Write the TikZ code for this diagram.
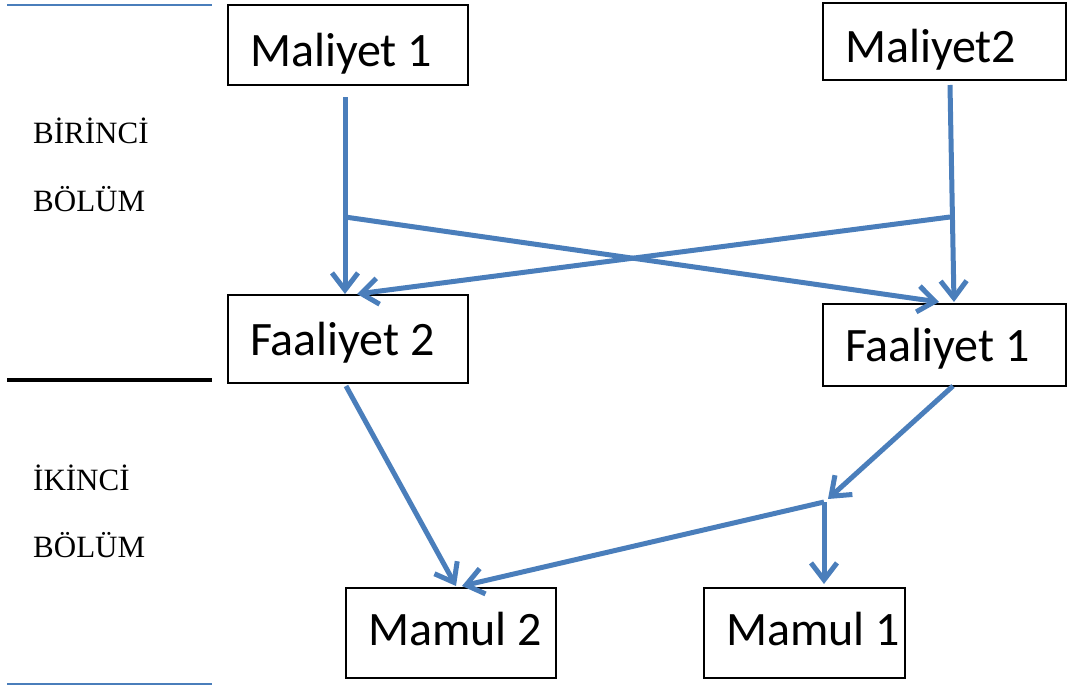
\documentclass[tikz,border=0pt]{standalone}
\usepackage{fontspec}
\setmainfont{Carlito}
\newfontfamily\serifface{Liberation Serif}
\usetikzlibrary{arrows.meta}
\definecolor{linkblue}{HTML}{4A7EBB}
\newcommand{\bxt}[3][0pt]{\raisebox{#1}{\makebox[#2][l]{#3}}}
\tikzset{
  box/.style={draw=black, line width=1.8pt, inner xsep=22pt, inner ysep=0pt, text height=34pt, text depth=0pt, font=\fontsize{48}{50}\selectfont, anchor=center},
  link/.style={draw=linkblue, line width=5pt, -{Straight Barb[length=17pt,width=26pt,line width=5pt]}},
  part/.style={font=\serifface\fontsize{31}{33}\selectfont, anchor=base west, inner sep=0pt},
  rule/.style={line width=2.8pt, draw=linkblue}
}
\begin{document}
\begin{tikzpicture}[x=1pt,y=-1pt]
\useasboundingbox (0,0) rectangle (1072,686);
% boxes
\node[box, minimum width=240pt, minimum height=80pt] (mal1) at (348,45) {\bxt[-4pt]{196pt}{Maliyet 1}};
\node[box, minimum width=243pt, minimum height=77pt] (mal2) at (944.5,41.5) {\bxt[-3.5pt]{199pt}{Maliyet2}};
\node[box, minimum width=240pt, minimum height=88pt] (fa2) at (348,339) {\bxt[1pt]{196pt}{Faaliyet 2}};
\node[box, minimum width=243pt, minimum height=82pt] (fa1) at (944.5,345) {\bxt[1pt]{199pt}{Faaliyet 1}};
\node[box, minimum width=210pt, minimum height=90pt] (mam2) at (451,633) {\bxt[5pt]{166pt}{Mamul 2}};
\node[box, minimum width=201pt, minimum height=90pt] (mam1) at (804.5,633) {\bxt[5pt]{157pt}{Mamul 1}};
% side labels
\node[part] (b1) at (33,143) {BİRİNCİ};
\node[part] (b2) at (33,211) {BÖLÜM};
\node[part] (i1) at (33,490) {İKİNCİ};
\node[part] (i2) at (33,557) {BÖLÜM};
% rules
\coordinate (t1) at (7,5); \coordinate (t2) at (212,5);
\coordinate (m1) at (7,380); \coordinate (m2) at (212,380);
\coordinate (u1) at (7,684); \coordinate (u2) at (212,684);
\draw[rule] (t1) -- (t2);
\draw[line width=3.5pt, black] (m1) -- (m2);
\draw[rule] (u1) -- (u2);
% connector points
\coordinate (s1) at (345,97);
\coordinate (j1) at (345,217);
\coordinate (e1) at (345,294);
\coordinate (s2) at (950,85);
\coordinate (j2) at (950,217);
\coordinate (e2) at (954,302);
\coordinate (e12) at (939,302);
\coordinate (e21) at (357,294);
\coordinate (s3) at (346,386);
\coordinate (e3) at (456,586);
\coordinate (s4) at (953,386);
\coordinate (e4) at (828,499);
\coordinate (j4) at (824,502);
\coordinate (e5) at (824,584);
\coordinate (e6) at (462,586);
% connectors
\draw[link] (s1) -- (e1);
\draw[link] (j1) -- (e12);
\draw[link] (s2) -- (e2);
\draw[link] (j2) -- (e21);
\draw[link] (s3) -- (e3);
\draw[link] (s4) -- (e4);
\draw[link] (j4) -- (e5);
\draw[link] (j4) -- (e6);
\end{tikzpicture}
\end{document}
